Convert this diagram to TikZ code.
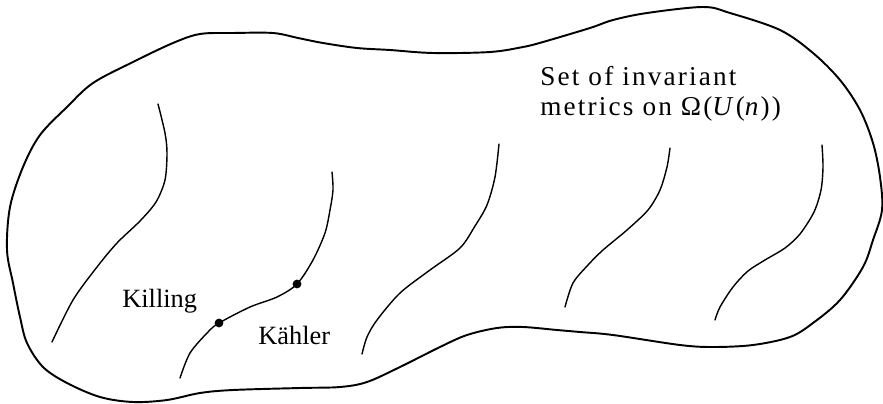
\documentclass[tikz,border=0pt]{standalone}
\usepackage{fontspec}
\setmainfont{Liberation Serif}
\newfontfamily\spacedfont[LetterSpace=8]{Liberation Serif}
\usetikzlibrary{positioning}

\begin{document}
\begin{tikzpicture}[
  x=0.02cm, y=-0.02cm,
  outline/.style={line width=1.1pt, black, line join=round},
  leaf/.style={line width=0.8pt, black, line cap=round},
  dot/.style={circle, fill=black, inner sep=0pt, minimum size=5pt},
  lbl/.style={inner sep=0pt, anchor=base west, font=\fontsize{15}{18}\selectfont},
  toplbl/.style={lbl, font=\fontsize{15.5}{18}\spacedfont},
]
  \useasboundingbox (0,0) rectangle (883,403);

  % the set of metrics
  \draw[outline] plot[smooth cycle, tension=0.55] coordinates {
    (200,34) (233,33) (273,33) (298,38) (323,43) (357,48) (390,50) (433,53)
    (490,52) (523,47) (543,42) (590,28) (613,20) (647,13) (703,7) (730,13)
    (780,30) (813,53) (840,80) (860,110) (873,143) (880,177) (882,210)
    (873,240) (863,267) (840,300) (813,323) (790,337) (753,345) (713,347)
    (680,345) (613,335) (580,332) (557,330) (523,327) (497,328) (467,335)
    (440,347) (400,367) (367,382) (340,387) (300,388) (233,390) (200,393)
    (167,400) (133,402) (100,397) (67,383) (43,367) (27,343) (20,317)
    (13,283) (7,250) (10,207) (23,167) (40,135) (67,107) (93,83) (133,62)
    (173,43)};

  % leaves
  \draw[leaf] plot[smooth] coordinates {
    (158,104) (165,133) (167,153) (165,180) (156,202) (140,221) (117,243)
    (97,267) (73,300) (52,342)};
  \draw[leaf] plot[smooth] coordinates {
    (332,172) (333,190) (330,210) (325,233) (313,260) (297,284) (277,297)
    (250,307) (219,323) (208,332) (190,353) (180,378)};
  \draw[leaf] plot[smooth] coordinates {
    (499,144) (495,177) (487,205) (475,226) (460,248) (430,270) (400,293)
    (377,320) (367,337) (362,354)};
  \draw[leaf] plot[smooth] coordinates {
    (670,148) (667,167) (660,190) (648,210) (627,230) (603,250) (588,265)
    (573,283) (565,307)};
  \draw[leaf] plot[smooth] coordinates {
    (822,145) (823,167) (821,190) (814,212) (800,234) (785,248) (765,260)
    (748,271) (733,287) (720,307) (715,320)};

  \node[dot] (kup) at (297,284) {};
  \node[dot] (klo) at (219,323) {};

  % labels
  \node[toplbl] (set) at (540,85) {Set of invariant};
  \node[toplbl] (met) at (540,115) {metrics on Ω(\textit{U}(\textit{n}))};
  \node[lbl] (killing) at (122,307) {Killing};
  \node[lbl] (kaehler) at (258,344) {Kähler};
\end{tikzpicture}
\end{document}
